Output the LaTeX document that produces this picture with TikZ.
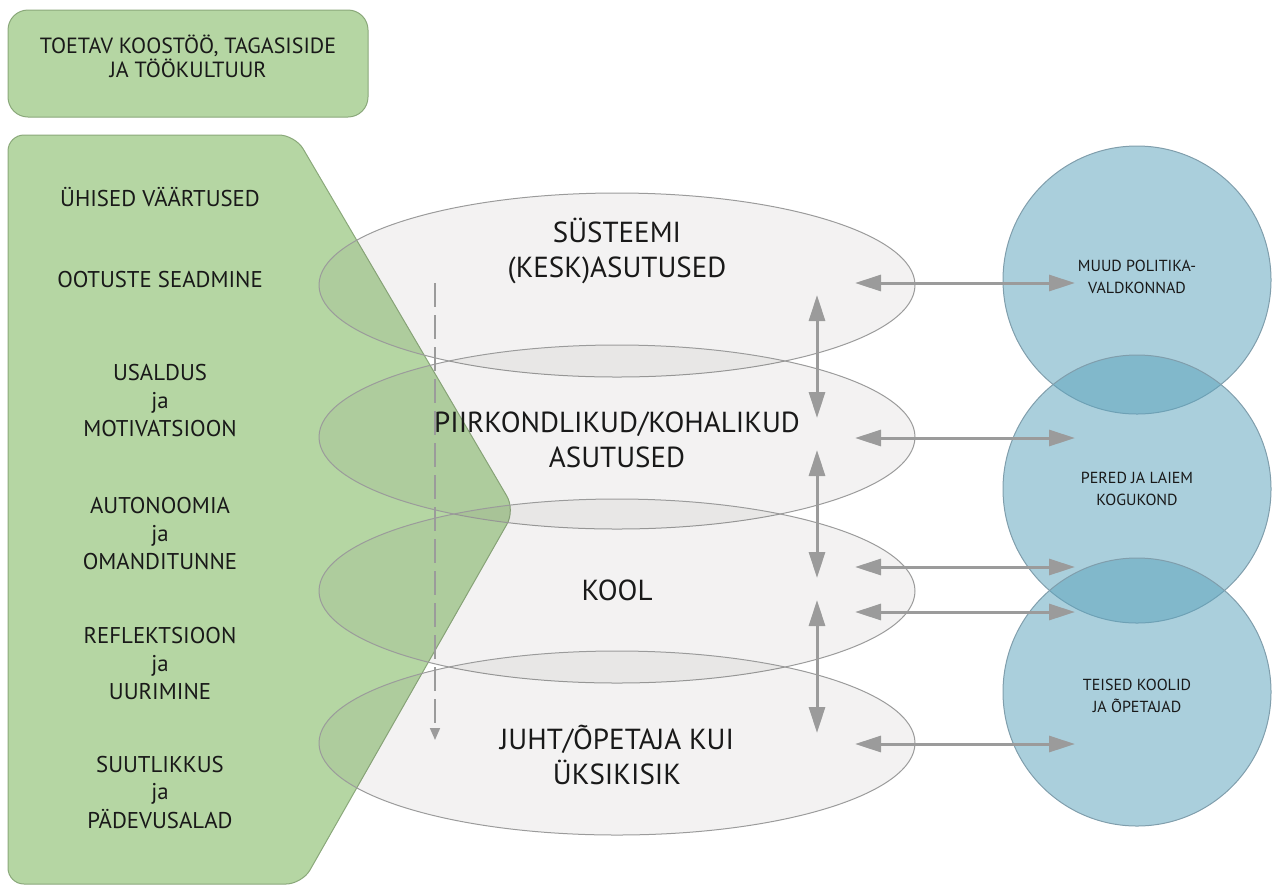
\documentclass[tikz,border=0pt]{standalone}
\usepackage{fontspec}
\setmainfont{PT Sans}
\usetikzlibrary{shapes.geometric, arrows.meta}
\definecolor{leafgreen}{RGB}{181,214,163}
\definecolor{leafedge}{RGB}{138,168,122}
\definecolor{skyfill}{RGB}{94,164,189}
\definecolor{skyedge}{RGB}{128,158,172}
\definecolor{mistfill}{RGB}{100,95,90}
\definecolor{mistedge}{RGB}{155,155,155}
\definecolor{linkgray}{RGB}{155,155,155}
\definecolor{inkgray}{RGB}{25,25,25}
\tikzset{>={Triangle[length=13pt,width=8pt]}}
\tikzset{
  level/.style={ellipse, draw=mistedge, line width=0.5pt, fill=mistfill,
    fill opacity=0.08, minimum width=298pt, minimum height=92pt, inner sep=0pt},
  partner/.style={circle, draw=skyedge, line width=0.5pt, fill=skyfill,
    fill opacity=0.53, minimum size=134pt, inner sep=0pt},
  leveltext/.style={align=center, text=inkgray, font=\fontsize{14.5}{17.5}\selectfont},
  sidetext/.style={align=center, text=inkgray, font=\fontsize{11.4}{14}\selectfont},
  partnertext/.style={align=center, text=inkgray, font=\fontsize{8}{11}\selectfont},
  link/.style={<->, draw=linkgray, line width=1.5pt}
}

\begin{document}
\begin{tikzpicture}[x=0.5pt, y=-0.5pt]
    \useasboundingbox (0,0) rectangle (1273,885);
    % green panels
    \filldraw[draw=leafedge, fill=leafgreen, line width=0.5pt, rounded corners=10pt]
    (8,10) rectangle (368,117);
    \filldraw[draw=leafedge, fill=leafgreen, line width=0.5pt, rounded corners=8pt]
    (8,500) -- (8,135) -- (295,135) -- (515,510) -- (302,884) -- (8,884) -- cycle;
    % levels
    \node[level] (system) at (617,285) {};
    \node[level] (region) at (617,437) {};
    \node[level] (school) at (617,591) {};
    \node[level] (person) at (617,743) {};
    % partners
    \node[partner] (policy) at (1137,280) {};
    \node[partner] (family) at (1137,489) {};
    \node[partner] (others) at (1137,692) {};
    % links between levels and partners
    \coordinate (h1l) at (855,283); \coordinate (h1r) at (1075,283);
    \coordinate (h2l) at (855,438); \coordinate (h2r) at (1075,438);
    \coordinate (h3l) at (855,567); \coordinate (h3r) at (1075,567);
    \coordinate (h4l) at (855,612); \coordinate (h4r) at (1075,612);
    \coordinate (h5l) at (855,744); \coordinate (h5r) at (1075,744);
    \draw[link] (h1l) -- (h1r);
    \draw[link] (h2l) -- (h2r);
    \draw[link] (h3l) -- (h3r);
    \draw[link] (h4l) -- (h4r);
    \draw[link] (h5l) -- (h5r);
    % links between levels
    \coordinate (v1t) at (817,295); \coordinate (v1b) at (817,418);
    \coordinate (v2t) at (817,450); \coordinate (v2b) at (817,578);
    \coordinate (v3t) at (817,600); \coordinate (v3b) at (817,733);
    \draw[link] (v1t) -- (v1b);
    \draw[link] (v2t) -- (v2b);
    \draw[link] (v3t) -- (v3b);
    % dashed top-down arrow
    \coordinate (downtop) at (435,283); \coordinate (downend) at (435,740);
    \draw[-{Triangle[length=6pt,width=5pt]}, linkgray, line width=0.8pt,
      dash pattern=on 12pt off 4pt] (downtop) -- (downend);
    % texts
    \node[sidetext, font=\fontsize{11}{12}\selectfont] (culturetext) at (188,56)
      {TOETAV KOOSTÖÖ, TAGASISIDE\\JA TÖÖKULTUUR};
    \node[sidetext] (values) at (160,197) {ÜHISED VÄÄRTUSED};
    \node[sidetext] (expect) at (160,280) {OOTUSTE SEADMINE};
    \node[sidetext] (trust) at (160,401) {USALDUS\\ja\\MOTIVATSIOON};
    \node[sidetext] (autonomy) at (160,534) {AUTONOOMIA\\ja\\OMANDITUNNE};
    \node[sidetext] (reflect) at (160,663) {REFLEKTSIOON\\ja\\UURIMINE};
    \node[sidetext] (capacity) at (160,792) {SUUTLIKKUS\\ja\\PÄDEVUSALAD};
    \node[leveltext] (systemtext) at (617,251) {SÜSTEEMI\\(KESK)ASUTUSED};
    \node[leveltext] (regiontext) at (617,440) {PIIRKONDLIKUD/KOHALIKUD\\ASUTUSED};
    \node[leveltext] (schooltext) at (617,590) {KOOL};
    \node[leveltext] (persontext) at (617,755) {JUHT/ÕPETAJA KUI\\ÜKSIKISIK};
    \node[partnertext] (policytext) at (1137,277) {MUUD POLITIKA-\\VALDKONNAD};
    \node[partnertext] (familytext) at (1137,489) {PERED JA LAIEM\\KOGUKOND};
    \node[partnertext] (otherstext) at (1137,696) {TEISED KOOLID\\JA ÕPETAJAD};
\end{tikzpicture}
\end{document}
